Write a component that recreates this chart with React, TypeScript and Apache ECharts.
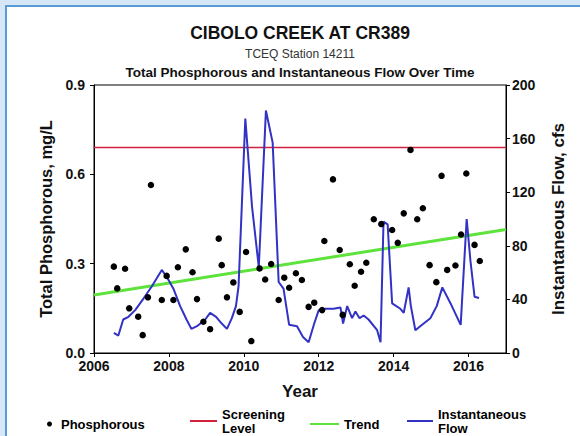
import React, { useEffect, useRef } from "react";
import * as echarts from "echarts";

const phosphorusYears = [
  2006.53, 2006.62, 2006.83, 2006.94, 2007.18, 2007.3, 2007.44, 2007.52, 2007.81, 2007.94,
  2008.12, 2008.24, 2008.45, 2008.63, 2008.75, 2008.92, 2009.1, 2009.33, 2009.41, 2009.55,
  2009.72, 2009.89, 2010.06, 2010.2, 2010.42, 2010.57, 2010.73, 2010.93, 2011.08, 2011.21,
  2011.39, 2011.55, 2011.73, 2011.88, 2012.09, 2012.15, 2012.38, 2012.56, 2012.64, 2012.83,
  2012.96, 2013.13, 2013.27, 2013.47, 2013.67, 2013.96, 2014.11, 2014.27, 2014.45, 2014.63,
  2014.78, 2014.96, 2015.14, 2015.28, 2015.43, 2015.65, 2015.8, 2015.94, 2016.16, 2016.3,
];
const phosphorusValues = [
  0.29, 0.217, 0.283, 0.15, 0.122, 0.06, 0.187, 0.564, 0.178, 0.259,
  0.178, 0.288, 0.348, 0.271, 0.181, 0.105, 0.08, 0.384, 0.295, 0.187,
  0.237, 0.138, 0.339, 0.04, 0.284, 0.247, 0.299, 0.178, 0.253, 0.219,
  0.268, 0.245, 0.155, 0.169, 0.144, 0.376, 0.583, 0.346, 0.128, 0.298,
  0.226, 0.273, 0.303, 0.449, 0.433, 0.413, 0.37, 0.469, 0.682, 0.449,
  0.486, 0.295, 0.238, 0.595, 0.279, 0.294, 0.398, 0.603, 0.363, 0.309,
];

const flowYears = [
  2006.53, 2006.65, 2006.78, 2006.92, 2007.1, 2007.33, 2007.55, 2007.81, 2007.96, 2008.12,
  2008.3, 2008.47, 2008.6, 2008.75, 2008.97, 2009.1, 2009.26, 2009.41, 2009.55, 2009.68,
  2009.79, 2009.86, 2010.04, 2010.22, 2010.4, 2010.59, 2010.77, 2010.93, 2011.06, 2011.21,
  2011.42, 2011.58, 2011.73, 2011.88, 2012.0, 2012.18, 2012.4, 2012.58, 2012.65, 2012.76,
  2012.89, 2012.98, 2013.09, 2013.2, 2013.33, 2013.56, 2013.65, 2013.73, 2013.84, 2013.96,
  2014.18, 2014.27, 2014.4, 2014.46, 2014.58, 2014.71, 2014.98, 2015.15, 2015.3, 2015.52,
  2015.79, 2015.95, 2016.05, 2016.16, 2016.28,
];
const flowValues = [
  15, 13, 25, 27, 32, 41, 50, 62, 56, 48,
  35, 25, 18, 20, 25, 30, 27, 22, 18, 26,
  35, 50, 175, 109, 64, 181, 157, 53, 48, 21,
  20, 12, 8, 22, 32, 33, 33, 34, 22, 35,
  26, 31, 26, 28, 25, 17, 8, 98, 96, 37,
  33, 30, 49, 35, 17, 20, 26, 35, 49, 37,
  21, 100, 69, 42, 41,
];

const trendYears = [2006, 2017];
const trendValues = [0.195, 0.415];
const screeningYears = [2006, 2017];
const screeningLevel = 0.69;

const xTickYears = [2006, 2008, 2010, 2012, 2014, 2016];

const FONT = "'Liberation Sans', Arial, sans-serif";

export default function App() {
  const ref = useRef<HTMLDivElement>(null);

  useEffect(() => {
    if (!ref.current) return;
    const chart = echarts.init(ref.current, null, { renderer: "svg" });

    const legendText = {
      color: "#000",
      fontFamily: FONT,
      fontWeight: "bold" as const,
      fontSize: 13,
      lineHeight: 14,
    };

    chart.setOption({
      animation: false,
      backgroundColor: "transparent",
      textStyle: { fontFamily: FONT },
      title: [
        {
          text: "CIBOLO CREEK AT CR389",
          left: 300,
          top: 24,
          textAlign: "center",
          padding: 0,
          textStyle: { fontSize: 17.5, fontWeight: "bold", color: "#111", fontFamily: FONT },
        },
        {
          text: "TCEQ Station 14211",
          left: 300,
          top: 48,
          textAlign: "center",
          padding: 0,
          textStyle: { fontSize: 12, fontWeight: "normal", color: "#333", fontFamily: FONT },
        },
        {
          text: "Total Phosphorous and Instantaneous Flow Over Time",
          left: 300,
          top: 65,
          textAlign: "center",
          padding: 0,
          textStyle: { fontSize: 13.5, fontWeight: "bold", color: "#111", fontFamily: FONT },
        },
      ],
      grid: {
        left: 94,
        right: 74,
        top: 85,
        bottom: 83,
        show: true,
        borderColor: "#000",
        borderWidth: 1,
        backgroundColor: "#fff",
      },
      legend: [
        {
          data: [{ name: "Phosphorous", icon: "circle" }],
          left: 47,
          top: 417,
          padding: 0,
          itemWidth: 13,
          itemHeight: 5,
          textStyle: legendText,
          selectedMode: false,
        },
        {
          data: [{ name: "Screening\nLevel", icon: "rect" }],
          left: 190,
          top: 407,
          padding: 0,
          itemWidth: 27,
          itemHeight: 2,
          textStyle: legendText,
          selectedMode: false,
        },
        {
          data: [{ name: "Trend", icon: "rect" }],
          left: 310,
          top: 417,
          padding: 0,
          itemWidth: 29,
          itemHeight: 2,
          textStyle: legendText,
          selectedMode: false,
        },
        {
          data: [{ name: "Instantaneous\nFlow", icon: "rect" }],
          left: 407,
          top: 407,
          padding: 0,
          itemWidth: 26,
          itemHeight: 2,
          textStyle: legendText,
          selectedMode: false,
        },
      ],
      xAxis: {
        type: "value",
        min: 2006,
        max: 2017,
        interval: 2,
        name: "Year",
        nameLocation: "middle",
        nameGap: 30,
        nameTextStyle: { fontSize: 17, fontWeight: "bold", color: "#111", fontFamily: FONT },
        axisLine: { show: true, lineStyle: { color: "#000", width: 1 } },
        axisTick: { show: true, length: 4, lineStyle: { color: "#000" }, customValues: xTickYears },
        axisLabel: {
          fontSize: 14,
          fontWeight: "bold",
          color: "#111",
          margin: 6,
          fontFamily: FONT,
          customValues: xTickYears,
          formatter: (v: number) => String(Math.round(v)),
        },
        splitLine: { show: false },
      },
      yAxis: [
        {
          type: "value",
          min: 0,
          max: 0.9,
          interval: 0.3,
          position: "left",
          name: "Total Phosphorous, mg/L",
          nameLocation: "middle",
          nameRotate: 90,
          nameGap: 35,
          nameTextStyle: { fontSize: 16.5, fontWeight: "bold", color: "#111", fontFamily: FONT },
          axisLine: { show: true, lineStyle: { color: "#000", width: 1 } },
          axisTick: { show: true, length: 4, lineStyle: { color: "#000" } },
          axisLabel: {
            fontSize: 14,
            fontWeight: "bold",
            color: "#111",
            margin: 9,
            fontFamily: FONT,
            formatter: (v: number) => v.toFixed(1),
          },
          splitLine: { show: false },
        },
        {
          type: "value",
          min: 0,
          max: 200,
          interval: 40,
          position: "right",
          name: "Instantaneous Flow, cfs",
          nameLocation: "middle",
          nameRotate: 90,
          nameGap: 44,
          nameTextStyle: { fontSize: 17, fontWeight: "bold", color: "#111", fontFamily: FONT },
          axisLine: { show: true, lineStyle: { color: "#000", width: 1 } },
          axisTick: { show: true, length: 4, lineStyle: { color: "#000" } },
          axisLabel: {
            fontSize: 14,
            fontWeight: "bold",
            color: "#111",
            margin: 6,
            fontFamily: FONT,
          },
          splitLine: { show: false },
        },
      ],
      series: [
        {
          name: "Screening\nLevel",
          type: "line",
          yAxisIndex: 0,
          data: screeningYears.map((y) => [y, screeningLevel]),
          showSymbol: false,
          symbol: "none",
          lineStyle: { color: "#d2213f", width: 1.5 },
          itemStyle: { color: "#d2213f" },
          z: 2,
        },
        {
          name: "Trend",
          type: "line",
          yAxisIndex: 0,
          data: trendYears.map((y, i) => [y, trendValues[i]]),
          showSymbol: false,
          symbol: "none",
          lineStyle: { color: "#5ee23c", width: 3 },
          itemStyle: { color: "#5ee23c" },
          z: 3,
        },
        {
          name: "Instantaneous\nFlow",
          type: "line",
          yAxisIndex: 1,
          data: flowYears.map((y, i) => [y, flowValues[i]]),
          showSymbol: false,
          symbol: "none",
          lineStyle: { color: "#3232c4", width: 2 },
          itemStyle: { color: "#3232c4" },
          z: 4,
        },
        {
          name: "Phosphorous",
          type: "scatter",
          yAxisIndex: 0,
          data: phosphorusYears.map((y, i) => [y, phosphorusValues[i]]),
          symbol: "circle",
          symbolSize: 6.5,
          itemStyle: { color: "#000", opacity: 1 },
          z: 5,
        },
      ],
    });

    return () => chart.dispose();
  }, []);

  return (
    <div
      style={{
        position: "fixed",
        left: 0,
        top: 0,
        width: 580,
        height: 436,
        background: "#d5e7f7",
        overflow: "hidden",
      }}
    >
      <div
        style={{
          position: "absolute",
          left: 5,
          top: 5,
          right: 0,
          bottom: 0,
          borderLeft: "2px solid #5b9bd5",
          borderTop: "2px solid #5b9bd5",
          background: "#fff",
        }}
      />
      <div ref={ref} style={{ position: "absolute", left: 0, top: 0, width: 580, height: 436 }} />
    </div>
  );
}
